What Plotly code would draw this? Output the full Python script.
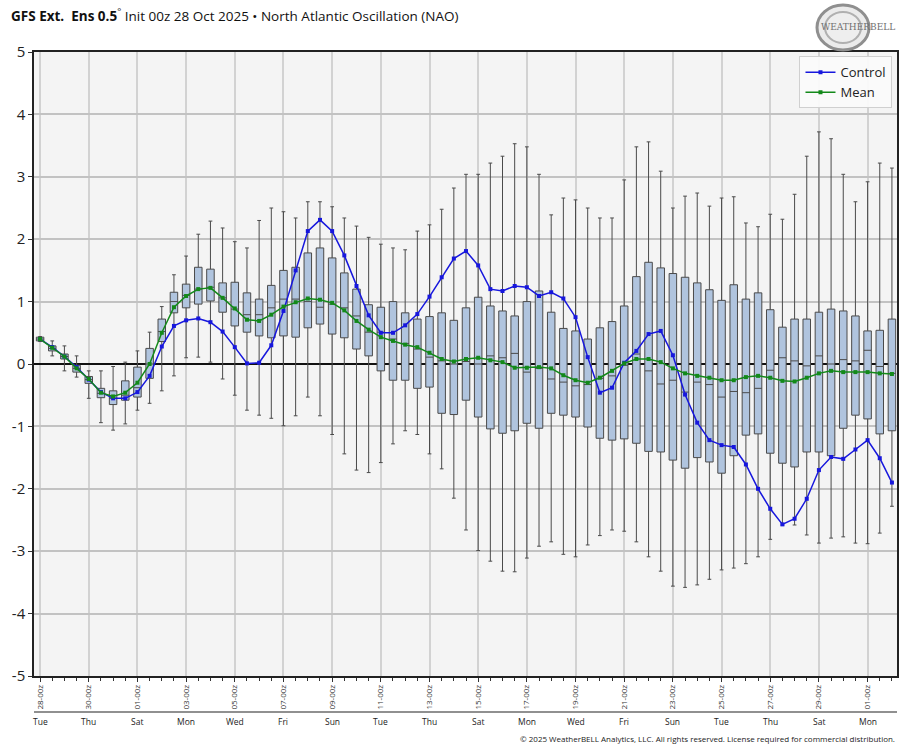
import plotly.graph_objects as go
import pandas as pd

# ---------------- data ----------------
times = pd.date_range("2025-10-28 00:00", periods=71, freq="12h")

control = [0.40, 0.27, 0.12, -0.05, -0.25, -0.45, -0.55, -0.55, -0.45, -0.19,
           0.28, 0.61, 0.70, 0.73, 0.67, 0.52, 0.27, 0.01, 0.02, 0.30,
           0.85, 1.50, 2.13, 2.31, 2.13, 1.74, 1.25, 0.78, 0.50, 0.50,
           0.62, 0.80, 1.08, 1.39, 1.69, 1.81, 1.58, 1.20, 1.17, 1.25,
           1.23, 1.09, 1.15, 1.05, 0.75, 0.11, -0.46, -0.38, 0.02, 0.21,
           0.48, 0.53, 0.14, -0.49, -0.94, -1.22, -1.30, -1.33, -1.61, -2.00,
           -2.32, -2.57, -2.48, -2.16, -1.70, -1.49, -1.52, -1.37, -1.22, -1.51,
           -1.90]

mean = [0.40, 0.26, 0.12, -0.07, -0.24, -0.46, -0.52, -0.46, -0.30, 0.00,
        0.50, 0.91, 1.09, 1.20, 1.22, 1.06, 0.89, 0.71, 0.69, 0.79,
        0.92, 0.99, 1.05, 1.03, 0.98, 0.86, 0.69, 0.55, 0.43, 0.37,
        0.31, 0.27, 0.18, 0.08, 0.04, 0.08, 0.10, 0.06, 0.03, -0.06,
        -0.06, -0.05, -0.07, -0.18, -0.26, -0.30, -0.22, -0.11, 0.01, 0.08,
        0.08, 0.03, -0.07, -0.15, -0.19, -0.22, -0.26, -0.26, -0.21, -0.19,
        -0.22, -0.27, -0.28, -0.22, -0.15, -0.11, -0.13, -0.13, -0.13, -0.15,
        -0.16]

whisker_low = [0.36, 0.13, -0.11, -0.21, -0.55, -0.94, -1.06, -0.96, -0.74, -0.63,
               -0.43, -0.19, 0.10, 0.11, 0.03, -0.24, -0.50, -0.74, -0.82, -0.87,
               -0.99, -0.83, -0.53, -0.83, -1.13, -1.44, -1.70, -1.74, -1.58, -1.28,
               -1.07, -1.13, -1.44, -1.68, -2.15, -2.66, -2.99, -3.16, -3.32, -3.33,
               -3.11, -2.92, -2.85, -3.05, -3.09, -2.90, -2.75, -2.66, -2.68, -2.85,
               -3.09, -3.32, -3.56, -3.58, -3.54, -3.45, -3.30, -3.27, -3.20, -3.09,
               -2.81, -2.58, -2.58, -2.74, -2.87, -2.79, -2.77, -2.87, -2.88, -2.71,
               -2.28]

q1 = [0.37, 0.21, 0.08, -0.13, -0.31, -0.54, -0.65, -0.58, -0.53, -0.23,
      0.36, 0.82, 0.90, 0.96, 1.01, 0.83, 0.61, 0.51, 0.45, 0.42,
      0.45, 0.43, 0.58, 0.64, 0.48, 0.42, 0.24, 0.13, -0.11, -0.26,
      -0.26, -0.39, -0.37, -0.79, -0.81, -0.58, -0.85, -1.04, -1.11, -1.07,
      -0.95, -1.03, -0.79, -0.82, -0.85, -1.01, -1.19, -1.22, -1.20, -1.27,
      -1.40, -1.41, -1.54, -1.67, -1.50, -1.57, -1.75, -1.47, -1.14, -1.12,
      -1.43, -1.59, -1.65, -1.41, -1.41, -1.47, -1.03, -0.82, -0.88, -1.12,
      -1.07]

median = [0.40, 0.25, 0.12, -0.07, -0.25, -0.47, -0.55, -0.50, -0.38, 0.00,
          0.52, 1.00, 1.10, 1.20, 1.23, 1.06, 0.88, 0.79, 0.79, 0.90,
          1.04, 1.04, 1.00, 0.91, 0.96, 0.90, 0.77, 0.51, 0.51, 0.40,
          0.33, 0.24, 0.11, 0.05, 0.00, 0.04, 0.00, 0.13, 0.10, 0.17,
          -0.13, -0.07, -0.24, -0.29, -0.35, -0.33, -0.23, -0.19, -0.02, 0.16,
          -0.11, -0.32, -0.26, -0.45, -0.29, -0.33, -0.53, -0.44, -0.46, -0.39,
          -0.10, 0.10, 0.05, -0.03, 0.13, 0.00, 0.07, 0.05, 0.22, -0.04,
          -0.15]

q3 = [0.43, 0.29, 0.16, -0.02, -0.20, -0.39, -0.43, -0.27, -0.05, 0.25,
      0.72, 1.15, 1.28, 1.55, 1.52, 1.30, 1.31, 1.14, 1.04, 1.26,
      1.50, 1.55, 1.78, 1.86, 1.70, 1.46, 1.20, 0.95, 0.91, 1.00,
      0.82, 0.72, 0.76, 0.82, 0.70, 0.90, 1.07, 0.93, 0.85, 0.77,
      1.00, 1.17, 0.83, 0.57, 0.53, 0.40, 0.58, 0.68, 0.93, 1.40,
      1.63, 1.54, 1.45, 1.39, 1.30, 1.19, 1.02, 1.27, 1.04, 1.14,
      0.87, 0.59, 0.72, 0.72, 0.83, 0.88, 0.85, 0.77, 0.53, 0.54,
      0.72]

whisker_high = [0.44, 0.37, 0.29, 0.13, -0.11, -0.11, -0.04, 0.03, 0.21, 0.51,
                0.92, 1.43, 1.73, 2.08, 2.29, 2.18, 1.96, 1.86, 2.30, 2.50,
                2.44, 2.34, 2.60, 2.60, 2.52, 2.34, 2.21, 2.03, 1.92, 1.86,
                1.83, 2.13, 2.23, 2.48, 2.82, 3.04, 3.04, 3.22, 3.33, 3.53,
                3.48, 3.04, 2.39, 2.66, 2.63, 2.50, 2.34, 2.34, 2.95, 3.48,
                3.56, 3.09, 2.50, 2.69, 2.74, 2.53, 2.66, 2.68, 2.26, 2.20,
                2.40, 2.32, 2.72, 3.33, 3.72, 3.61, 3.04, 2.60, 2.92, 3.22,
                3.14]

tick_times = pd.date_range("2025-10-28 00:00", "2025-12-01 00:00", freq="48h")
tick_labels = ["28-00z", "30-00z", "01-00z", "03-00z", "05-00z", "07-00z",
               "09-00z", "11-00z", "13-00z", "15-00z", "17-00z", "19-00z",
               "21-00z", "23-00z", "25-00z", "27-00z", "29-00z", "01-00z"]
day_names = ["Tue", "Thu", "Sat", "Mon", "Wed", "Fri", "Sun", "Tue", "Thu",
             "Sat", "Mon", "Wed", "Fri", "Sun", "Tue", "Thu", "Sat", "Mon"]
y_ticks = [5, 4, 3, 2, 1, 0, -1, -2, -3, -4, -5]
y_tick_labels = ["5", "4", "3", "2", "1", "0", "-1", "-2", "-3", "-4", "-5"]

FONT = "Open Sans"
BLUE = "#1717dd"
GREEN = "#13891a"


def px_x(p):
    return (p - 34) / 863


def px_y(p):
    return (676 - p) / 624


fig = go.Figure()

fig.add_trace(go.Box(
    x=times, q1=q1, median=median, q3=q3,
    lowerfence=whisker_low, upperfence=whisker_high,
    fillcolor="#b0c4de", line=dict(color="#4a4a4a", width=1),
    width=7.4 * 3600 * 1000, whiskerwidth=0.5,
    showlegend=False, hoverinfo="skip", boxpoints=False,
))

fig.add_trace(go.Scatter(
    x=times, y=control, mode="lines+markers", name="Control",
    line=dict(color=BLUE, width=1.5),
    marker=dict(symbol="square", size=4, color=BLUE),
))
fig.add_trace(go.Scatter(
    x=times, y=mean, mode="lines+markers", name="Mean",
    line=dict(color=GREEN, width=1.5),
    marker=dict(symbol="square", size=4, color=GREEN),
))

x0 = pd.Timestamp("2025-10-27 18:00")
x1 = pd.Timestamp("2025-12-02 05:00")

fig.update_layout(
    width=914, height=750,
    margin=dict(l=34, r=17, t=52, b=74),
    paper_bgcolor="white", plot_bgcolor="#f4f4f4",
    font=dict(family=FONT, color="#222"),
    showlegend=True,
    legend=dict(
        x=0.887, y=0.993, xanchor="left", yanchor="top",
        bgcolor="rgba(250,250,250,0.95)", bordercolor="#d0d0d0", borderwidth=1,
        font=dict(family=FONT, size=13, color="#222"),
        itemwidth=30, tracegroupgap=2,
    ),
    xaxis=dict(
        type="date", range=[x0, x1],
        tickmode="array", tickvals=list(tick_times), ticktext=tick_labels,
        tickangle=-90, tickfont=dict(family=FONT, size=8, color="#333"),
        ticks="outside", ticklen=4, tickcolor="#333",
        showgrid=True, gridcolor="#d2d2d2", gridwidth=1.5,
        showline=True, linecolor="#222", linewidth=1.5, mirror=True,
        minor=dict(tickmode="array", tickvals=list(times), ticks="outside",
                   ticklen=3, tickcolor="#333", showgrid=False),
        zeroline=False,
    ),
    yaxis=dict(
        range=[-5, 5], tickmode="array", tickvals=y_ticks, ticktext=y_tick_labels,
        tickfont=dict(family=FONT, size=15, color="#222"),
        ticks="outside", ticklen=4, tickcolor="#333",
        showgrid=True, gridcolor="#c2c2c2", gridwidth=1.5,
        showline=True, linecolor="#222", linewidth=1.5, mirror=True,
        zeroline=True, zerolinecolor="#111", zerolinewidth=1.5,
    ),
)

# Title
fig.add_annotation(
    x=px_x(9), y=px_y(15), xref="paper", yref="paper", xanchor="left", yanchor="middle",
    text="<b>GFS Ext.&nbsp; Ens 0.5</b><sup>°</sup> Init 00z 28 Oct 2025 • North Atlantic Oscillation (NAO)",
    showarrow=False, font=dict(family=FONT, size=13.5, color="#111"),
)

# day names row + separator line
sep_y = px_y(712)
fig.add_shape(type="line", xref="paper", yref="paper", x0=0, x1=1,
              y0=sep_y, y1=sep_y, line=dict(color="#222", width=1.2))
for t, d in zip(tick_times, day_names):
    fig.add_annotation(x=t, y=px_y(721), xref="x", yref="paper",
                       text=d, showarrow=False, xanchor="center", yanchor="middle",
                       font=dict(family=FONT, size=8.5, color="#222"))

# copyright
fig.add_annotation(x=1.0, y=px_y(738), xref="paper", yref="paper",
                   xanchor="right", yanchor="middle", showarrow=False,
                   text="© 2025 WeatherBELL Analytics, LLC. All rights reserved. License required for commercial distribution.",
                   font=dict(family=FONT, size=8, color="#222"))

# logo (approximation of the WeatherBELL swirl)
fig.add_shape(type="circle", xref="paper", yref="paper",
              x0=px_x(817), x1=px_x(869), y0=px_y(50), y1=px_y(5),
              line=dict(color="#8f8f8f", width=3), fillcolor="rgba(210,210,210,0.45)")
fig.add_shape(type="circle", xref="paper", yref="paper",
              x0=px_x(825), x1=px_x(861), y0=px_y(43), y1=px_y(12),
              line=dict(color="#b0b0b0", width=2), fillcolor="rgba(238,238,238,0.9)")
fig.add_annotation(x=px_x(897), y=px_y(27), xref="paper", yref="paper",
                   xanchor="right", yanchor="middle",
                   text="WEATHERBELL", showarrow=False,
                   font=dict(family="DejaVu Serif", size=9, color="#707070"))

fig.write_html("out.html")
